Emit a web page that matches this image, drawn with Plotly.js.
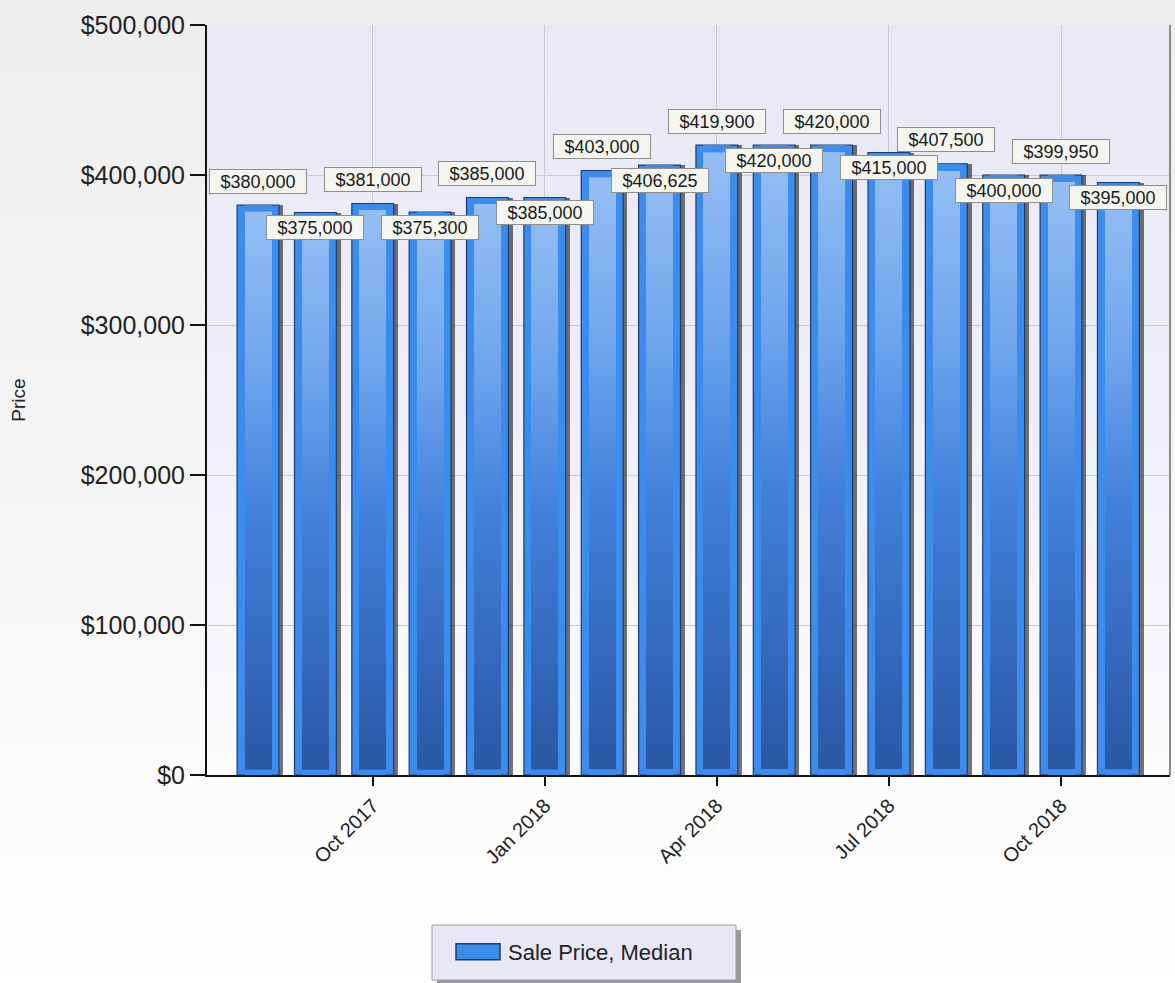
<!DOCTYPE html>
<html>
<head>
<meta charset="utf-8">
<script src="https://cdn.plot.ly/plotly-3.0.1.min.js"></script>
<style>
  html, body { margin: 0; padding: 0; }
  body { background: linear-gradient(to bottom, #ededed 0%, #f6f6f6 55%, #ffffff 100%); width: 1175px; height: 983px; overflow: hidden; }
  #chart { width: 1175px; height: 983px; }
</style>
</head>
<body>
<div id="chart"></div>
<script>
const months = ['Aug 2017','Sep 2017','Oct 2017','Nov 2017','Dec 2017','Jan 2018','Feb 2018','Mar 2018',
                'Apr 2018','May 2018','Jun 2018','Jul 2018','Aug 2018','Sep 2018','Oct 2018','Nov 2018'];
const medianPrice = [380000, 375000, 381000, 375300, 385000, 385000, 403000, 406625,
                     419900, 420000, 420000, 415000, 407500, 400000, 399950, 395000];
const tickMonths = ['Oct 2017','Jan 2018','Apr 2018','Jul 2018','Oct 2018'];
const priceTicks = [0, 100000, 200000, 300000, 400000, 500000];
const seriesName = 'Sale Price, Median';

const FONT = 'Liberation Sans, Arial, sans-serif';
const outerW = 0.73, innerW = 0.47;

const shadow = {
  type: 'bar', x: months, y: medianPrice, width: outerW, offset: -outerW / 2 + 0.075,
  marker: { color: 'rgba(40,40,40,0.65)', line: { width: 0 } },
  showlegend: false, hoverinfo: 'skip'
};
const outer = {
  type: 'bar', x: months, y: medianPrice, width: outerW, name: seriesName,
  marker: { color: '#3c8cee', line: { color: '#1d3b6c', width: 1.2 } },
  showlegend: true
};
const inner = {
  type: 'bar', x: months, y: medianPrice, width: innerW,
  marker: { color: '#4d8ae2', line: { width: 0 } },
  showlegend: false, hoverinfo: 'skip'
};

const annotations = months.map((m, i) => ({
  x: m, y: medianPrice[i], xref: 'x', yref: 'y',
  text: '$' + medianPrice[i].toLocaleString('en-US'),
  showarrow: false, yanchor: 'middle', yshift: (i % 2 === 0) ? 24 : -15,
  bgcolor: '#f5f5ef', bordercolor: '#8e8e8e', borderwidth: 1, borderpad: 1,
  width: 94, height: 21,
  font: { family: FONT, size: 18, color: '#1a1a1a' }
}));

const px = v => (v - 207) / 963;
const py = v => (775 - v) / 750;

const layout = {
  width: 1175, height: 983,
  margin: { l: 207, r: 5, t: 25, b: 208 },
  paper_bgcolor: 'rgba(0,0,0,0)',
  plot_bgcolor: '#eaeaf7',
  barmode: 'overlay',
  bargap: 0,
  showlegend: true,
  xaxis: {
    type: 'category', range: [-0.89, 15.9],
    tickvals: tickMonths, ticktext: tickMonths, tickangle: -45,
    ticks: 'outside', ticklen: 9, tickcolor: '#111', tickwidth: 1.5,
    showgrid: true, gridcolor: '#c9c9d2', gridwidth: 1,
    showline: true, linecolor: '#111', linewidth: 2,
    tickfont: { family: FONT, size: 20, color: '#222' },
    fixedrange: true
  },
  yaxis: {
    range: [0, 500000], tickvals: priceTicks, tickformat: '$,.0f',
    ticks: 'outside', ticklen: 15, tickcolor: '#111', tickwidth: 1.5,
    showgrid: true, gridcolor: '#c9c9d2', gridwidth: 1,
    showline: true, linecolor: '#111', linewidth: 2,
    zeroline: false,
    tickfont: { family: FONT, size: 25, color: '#222' },
    title: { text: 'Price', font: { family: FONT, size: 19, color: '#222' }, standoff: 50 },
    fixedrange: true
  },
  legend: {
    orientation: 'h', x: px(448), y: py(952), xanchor: 'left', yanchor: 'middle',
    bgcolor: 'rgba(0,0,0,0)', borderwidth: 0, itemwidth: 50,
    font: { family: FONT, size: 22, color: '#222' }
  },
  shapes: [
    { type: 'line', xref: 'paper', yref: 'paper', x0: 1, x1: 1, y0: 0, y1: 1,
      line: { color: '#8a8a8a', width: 2 } },
    { type: 'rect', xref: 'paper', yref: 'paper', x0: px(437), x1: px(741), y0: py(930), y1: py(985),
      fillcolor: '#9a9a9a', line: { width: 0 }, layer: 'above' },
    { type: 'rect', xref: 'paper', yref: 'paper', x0: px(432), x1: px(736), y0: py(925), y1: py(980),
      fillcolor: '#e7e7f5', line: { color: '#9c9c9c', width: 1 }, layer: 'above' }
  ],
  annotations: annotations
};

const gd = document.getElementById('chart');
Plotly.newPlot(gd, [shadow, outer, inner], layout, { displayModeBar: false, staticPlot: true }).then(() => {
  const NS = 'http://www.w3.org/2000/svg';
  const svg = gd.querySelector('svg.main-svg');
  let defs = svg.querySelector('defs');
  if (!defs) { defs = document.createElementNS(NS, 'defs'); svg.insertBefore(defs, svg.firstChild); }
  function grad(id, stops) {
    const g = document.createElementNS(NS, 'linearGradient');
    g.setAttribute('id', id);
    g.setAttribute('x1', '0'); g.setAttribute('y1', '0');
    g.setAttribute('x2', '0'); g.setAttribute('y2', '1');
    stops.forEach(([o, c]) => {
      const s = document.createElementNS(NS, 'stop');
      s.setAttribute('offset', o); s.setAttribute('stop-color', c);
      g.appendChild(s);
    });
    defs.appendChild(g);
  }
  grad('innerGrad', [[0, '#3c8cee'], [0.011, '#3c8cee'], [0.012, '#94bef4'], [0.3, '#6da4ec'],
                     [0.55, '#427fdb'], [0.99, '#2b58a4'], [0.991, '#3c8cee'], [1, '#3c8cee']]);
  grad('plotGrad', [[0, '#e8e8f6'], [0.5, '#eeeef8'], [1, '#fbfbfd']]);

  const traces = gd.querySelectorAll('.barlayer .trace');
  if (traces[2]) traces[2].querySelectorAll('path').forEach(p => { p.style.fill = 'url(#innerGrad)'; });
  const bg = gd.querySelector('.bglayer .bg');
  if (bg) bg.style.fill = 'url(#plotGrad)';
  const lp = gd.querySelector('.legend .legendpoints path');
  if (lp) {
    lp.setAttribute('d', 'M-22,8H22V-8H-22Z');
    lp.style.stroke = '#1d3b6c'; lp.style.strokeWidth = '1.5px';
  }
});
</script>
</body>
</html>
